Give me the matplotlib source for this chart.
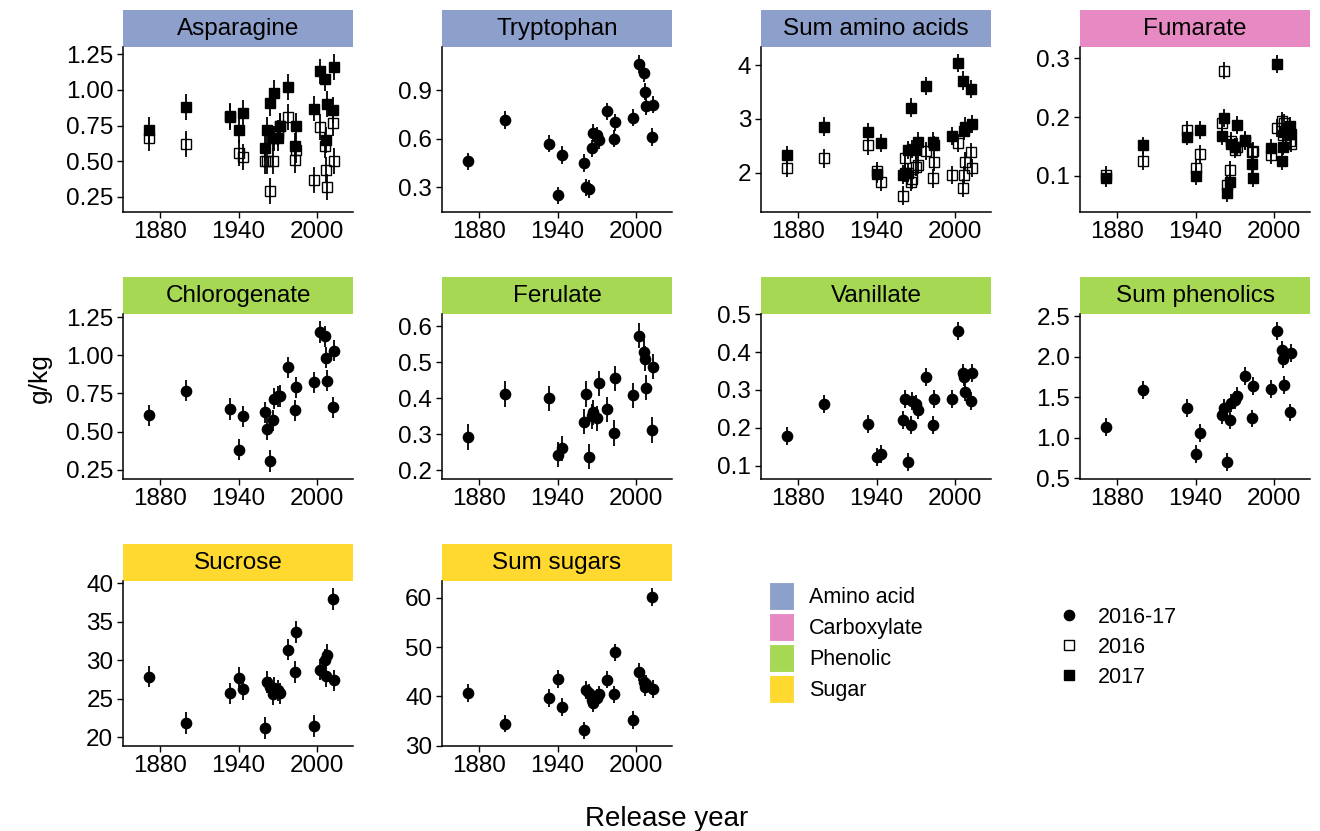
import numpy as np
import matplotlib.pyplot as plt
from matplotlib.patches import Patch
from matplotlib.lines import Line2D

plt.rcParams['font.family'] = ['Liberation Sans', 'DejaVu Sans']

# release year of each variety
release_year = [1871, 1900, 1933, 1940, 1943, 1960, 1962, 1964, 1966, 1967, 1970,
                1972, 1978, 1983, 1984, 1998, 2002, 2006, 2007, 2008, 2012, 2013]

# amino acids (2016 and 2017 separately)
asparagine_2016 = [0.66, 0.62, 0.81, 0.56, 0.53, 0.50, 0.50, 0.29, 0.50, 0.66, 0.70,
                   0.75, 0.81, 0.51, 0.58, 0.37, 0.74, 0.61, 0.44, 0.32, 0.77, 0.50]
asparagine_2017 = [0.72, 0.88, 0.82, 0.72, 0.84, 0.59, 0.72, 0.91, 0.66, 0.98, 0.66,
                   0.75, 1.02, 0.61, 0.75, 0.87, 1.13, 1.08, 0.65, 0.90, 0.86, 1.16]
tryptophan = [0.46, 0.715, 0.57, 0.25, 0.50, 0.45, 0.30, 0.29, 0.54, 0.635, 0.62,
              0.59, 0.77, 0.60, 0.70, 0.73, 1.06, 1.005, 0.89, 0.80, 0.61, 0.81]
sum_amino_2016 = [2.09, 2.27, 2.51, 2.04, 1.84, 1.58, 2.27, 2.00, 1.84, 1.88, 2.12,
                  2.15, 2.41, 1.90, 2.20, 1.96, 2.55, 1.72, 1.96, 2.21, 2.38, 2.09]
sum_amino_2017 = [2.33, 2.86, 2.75, 1.98, 2.55, 1.97, 2.00, 2.42, 3.21, 2.45, 2.42,
                  2.58, 3.61, 2.58, 2.52, 2.69, 4.04, 3.71, 2.78, 2.86, 3.55, 2.91]
# carboxylate
fumarate_2016 = [0.102, 0.126, 0.178, 0.113, 0.137, 0.190, 0.279, 0.085, 0.110, 0.160, 0.145,
                 0.150, 0.160, 0.141, 0.142, 0.136, 0.181, 0.194, 0.170, 0.190, 0.160, 0.155]
fumarate_2017 = [0.096, 0.152, 0.167, 0.100, 0.178, 0.168, 0.198, 0.071, 0.090, 0.155, 0.150,
                 0.187, 0.161, 0.120, 0.096, 0.147, 0.290, 0.126, 0.150, 0.175, 0.185, 0.172]
# phenolics
chlorogenate = [0.606, 0.768, 0.647, 0.382, 0.599, 0.625, 0.517, 0.306, 0.573, 0.716, 0.73,
                0.734, 0.92, 0.638, 0.79, 0.823, 1.152, 1.124, 0.983, 0.833, 0.658, 1.029]
ferulate = [0.293, 0.412, 0.40, 0.244, 0.261, 0.335, 0.412, 0.238, 0.35, 0.361, 0.345,
            0.442, 0.37, 0.304, 0.456, 0.409, 0.574, 0.529, 0.51, 0.43, 0.312, 0.488]
vanillate = [0.178, 0.262, 0.211, 0.124, 0.132, 0.22, 0.276, 0.11, 0.207, 0.271, 0.262,
             0.248, 0.335, 0.207, 0.276, 0.276, 0.455, 0.345, 0.335, 0.295, 0.271, 0.345]
sum_phenolics = [1.134, 1.592, 1.371, 0.803, 1.056, 1.281, 1.367, 0.70, 1.216, 1.43, 1.47,
                 1.518, 1.764, 1.24, 1.641, 1.60, 2.32, 2.09, 1.968, 1.653, 1.314, 2.05]
# sugars
sucrose = [27.9, 21.9, 25.7, 27.7, 26.3, 21.2, 27.2, 26.5, 25.6, 26.4, 26.1,
           25.7, 31.4, 28.5, 33.7, 21.5, 28.8, 30.1, 28.0, 30.7, 38.0, 27.4]
sum_sugars = [40.7, 34.5, 39.6, 43.6, 37.8, 33.1, 41.3, 40.7, 39.3, 38.6, 39.6,
              40.4, 43.4, 40.4, 48.9, 35.2, 44.9, 42.9, 41.9, 42.6, 60.2, 41.5]

categories = ['Amino acid', 'Carboxylate', 'Phenolic', 'Sugar']
cat_colors = ['#8DA0CB', '#E78AC3', '#A6D854', '#FFD92F']

# name, category, series, standard error, y limits, y ticks, tick format
panels = [
    ('Asparagine', 'Amino acid', {'2016': asparagine_2016, '2017': asparagine_2017}, 0.09,
     (0.147, 1.303), [0.25, 0.5, 0.75, 1.0, 1.25], '{:.2f}'),
    ('Tryptophan', 'Amino acid', {'2016-17': tryptophan}, 0.053,
     (0.150, 1.167), [0.3, 0.6, 0.9], '{:.1f}'),
    ('Sum amino acids', 'Amino acid', {'2016': sum_amino_2016, '2017': sum_amino_2017}, 0.17,
     (1.283, 4.339), [2, 3, 4], '{:.0f}'),
    ('Fumarate', 'Carboxylate', {'2016': fumarate_2016, '2017': fumarate_2017}, 0.015,
     (0.0393, 0.3197), [0.1, 0.2, 0.3], '{:.1f}'),
    ('Chlorogenate', 'Phenolic', {'2016-17': chlorogenate}, 0.07,
     (0.191, 1.272), [0.25, 0.5, 0.75, 1.0, 1.25], '{:.2f}'),
    ('Ferulate', 'Phenolic', {'2016-17': ferulate}, 0.035,
     (0.177, 0.635), [0.2, 0.3, 0.4, 0.5, 0.6], '{:.1f}'),
    ('Vanillate', 'Phenolic', {'2016-17': vanillate}, 0.024,
     (0.066, 0.501), [0.1, 0.2, 0.3, 0.4, 0.5], '{:.1f}'),
    ('Sum phenolics', 'Phenolic', {'2016-17': sum_phenolics}, 0.11,
     (0.496, 2.533), [0.5, 1.0, 1.5, 2.0, 2.5], '{:.1f}'),
    ('Sucrose', 'Sugar', {'2016-17': sucrose}, 1.4,
     (18.92, 40.34), [20, 25, 30, 35, 40], '{:.0f}'),
    ('Sum sugars', 'Sugar', {'2016-17': sum_sugars}, 1.8,
     (30.0, 63.46), [30, 40, 50, 60], '{:.0f}'),
]

series_style = {
    '2016-17': dict(marker='o', ms=7.4, mfc='black', mec='black'),
    '2017': dict(marker='s', ms=6.6, mfc='black', mec='black'),
    '2016': dict(marker='s', ms=6.6, mfc='none', mec='black', mew=1.0),
}

W, H = 1320, 831
fig = plt.figure(figsize=(W / 100, H / 100), dpi=100)


def px_axes(left, top, right, bottom):
    return fig.add_axes([left / W, 1 - bottom / H, (right - left) / W, (bottom - top) / H])


col_left = [123, 442, 761, 1080]
row_top = [10, 277, 544]
strip_h = 36.7
panel_w = 230
panel_h = 165

for i, (name, cat, series, se, ylim, yticks, fmt) in enumerate(panels):
    r, c = divmod(i, 4)
    left = col_left[c]
    top = row_top[r]

    # strip
    sax = px_axes(left, top, left + panel_w, top + strip_h)
    sax.set_facecolor(cat_colors[categories.index(cat)])
    sax.set_xticks([])
    sax.set_yticks([])
    for s in sax.spines.values():
        s.set_visible(False)
    sax.text(0.5, 0.47, name, ha='center', va='center', fontsize=17.5, transform=sax.transAxes)

    ax = px_axes(left, top + strip_h, left + panel_w, top + strip_h + panel_h)
    for key in ['2017', '2016-17', '2016']:
        if key not in series:
            continue
        vals = np.array(series[key])
        ax.errorbar(release_year, vals, yerr=se, fmt='none', ecolor='black', elinewidth=1.3,
                    capsize=0, zorder=2)
        ax.plot(release_year, vals, ls='none', zorder=3, **series_style[key])

    ax.set_xlim(1851.4, 2027.6)
    ax.set_ylim(*ylim)
    ax.set_xticks([1880, 1940, 2000])
    ax.set_yticks(yticks)
    ax.set_yticklabels([fmt.format(t) for t in yticks])
    ax.spines['top'].set_visible(False)
    ax.spines['right'].set_visible(False)
    for s in ['left', 'bottom']:
        ax.spines[s].set_linewidth(1.1)
    ax.tick_params(axis='both', length=4, width=1.0, labelsize=17.5, pad=3, colors='black')

fig.text(40 / W, 1 - 378 / H, 'g/kg', rotation=90, ha='center', va='center', fontsize=19)
fig.text(667 / W, 1 - 819 / H, 'Release year', ha='center', va='center', fontsize=20)

# category legend
cat_handles = [Patch(facecolor=col, edgecolor='white', linewidth=0.8, label=lab)
               for lab, col in zip(categories, cat_colors)]
fig.legend(handles=cat_handles, loc='upper left', bbox_to_anchor=(769 / W, 1 - 582 / H),
           frameon=False, fontsize=15.5, handlelength=1.17, handleheight=1.63,
           handletextpad=0.7, labelspacing=0.14, borderpad=0, borderaxespad=0)

# year legend
year_handles = [Line2D([], [], ls='none', label=k, **series_style[k])
                for k in ['2016-17', '2016', '2017']]
fig.legend(handles=year_handles, loc='upper left', bbox_to_anchor=(1058 / W, 1 - 607 / H),
           frameon=False, fontsize=15.5, handlelength=1.0, handletextpad=0.85,
           labelspacing=0.41, borderpad=0, borderaxespad=0)

fig.savefig('out.png', dpi=100)
